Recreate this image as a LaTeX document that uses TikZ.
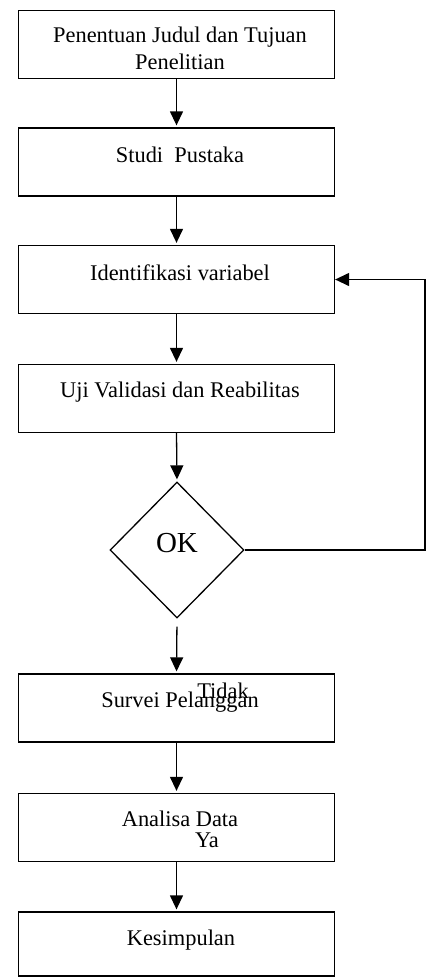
\documentclass[tikz,border=0pt]{standalone}
\usepackage{fontspec}
\setmainfont{Liberation Serif}
\usetikzlibrary{arrows.meta,shapes.geometric}
\begin{document}
\begin{tikzpicture}[x=1pt,y=-1pt,
  box/.style={draw,line width=1.3pt,rectangle,minimum width=316pt,minimum height=68pt,inner sep=0pt},
  dia/.style={draw,line width=1.3pt,diamond,minimum width=134pt,minimum height=136pt,inner sep=0pt},
  txt/.style={anchor=base,inner sep=0pt,font=\fontsize{22.4}{27}\selectfont},
  oktxt/.style={anchor=base,inner sep=0pt,font=\fontsize{29}{34}\selectfont},
  arr/.style={line width=1.3pt,-{Triangle[width=13pt,length=14pt]},shorten >=2pt},
  lin/.style={line width=1.3pt}]
\useasboundingbox (0,0) rectangle (427,978);
\node[box] (b1) at (176.5,44.5) {};
\node[box] (b2) at (176.5,162) {};
\node[box] (b3) at (176.5,279.5) {};
\node[box] (b4) at (176.5,398.5) {};
\node[dia] (d) at (177,550) {};
\node[box] (b5) at (176.5,708) {};
\node[box] (b6) at (176.5,827.5) {};
\node[box,minimum height=64pt] (b7) at (176.5,944) {};
\node[txt] (t1a) at (180,42.5) {Penentuan Judul dan Tujuan};
\node[txt] (t1b) at (180,69.5) {Penelitian};
\node[txt] (t2) at (180,162.7) {Studi\ \ Pustaka};
\node[txt] (t3) at (180,280.7) {Identifikasi variabel};
\node[txt] (t4) at (180,397.7) {Uji Validasi dan Reabilitas};
\node[oktxt] (tok) at (177,552.7) {OK};
\node[txt] (t5) at (180,707.3) {Survei Pelanggan};
\node[txt] (tt) at (223,698.3) {Tidak};
\node[txt] (t6) at (180,826) {Analisa Data};
\node[txt] (ty) at (207,847.3) {Ya};
\node[txt] (t7) at (181,945) {Kesimpulan};
\draw[arr] (b1.south) -- (b2.north);
\draw[arr] (b2.south) -- (b3.north);
\draw[arr] (b3.south) -- (b4.north);
\draw[arr] (b4.south) -- (d.north);
\draw[arr,shorten <=8pt] (d.south) -- (b5.north);
\draw[arr] (b5.south) -- (b6.north);
\draw[arr] (b6.south) -- (b7.north);
\coordinate (fb) at (425,550);
\draw[arr,shorten >=0pt] (d.east) -- (fb) |- (b3.east);
\end{tikzpicture}
\end{document}
